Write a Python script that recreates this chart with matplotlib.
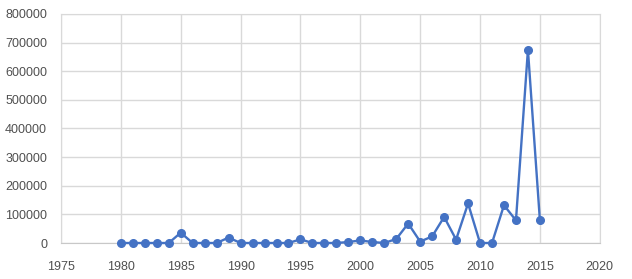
import matplotlib
matplotlib.use("Agg")
import matplotlib.pyplot as plt

years = list(range(1980, 2016))
values = [0, 0, 0, 0, 0, 36000, 0, 0, 0, 19000,
          0, 0, 0, 0, 0, 13000, 0, 0, 0, 3500,
          9000, 3500, 0, 14000, 68000, 5000, 23000, 91000, 12000, 138000,
          0, 0, 132000, 79000, 675000, 79000]

xticks = list(range(1975, 2021, 5))
yticks = list(range(0, 800001, 100000))

plt.rcParams['font.family'] = ['Liberation Sans', 'DejaVu Sans']

fig = plt.figure(figsize=(6.32, 2.79), dpi=100)
ax = fig.add_axes([0.0965, 0.129, 0.8525, 0.821])

ax.plot(years, values, color='#4472C4', linewidth=1.7, marker='o',
        markersize=5.5, zorder=3, clip_on=False)

ax.set_xlim(1975, 2020)
ax.set_ylim(0, 800000)
ax.set_xticks(xticks)
ax.set_yticks(yticks)
ax.grid(True, color='#D9D9D9', linewidth=1)
ax.set_axisbelow(True)
ax.tick_params(length=0, labelsize=9, colors='#505050')
ax.tick_params(axis='y', pad=10)
ax.tick_params(axis='x', pad=13)

for s in ['top', 'right', 'left']:
    ax.spines[s].set_color('#D9D9D9')
ax.spines['bottom'].set_color('#C8C8C8')

fig.savefig('out.png', dpi=100)
